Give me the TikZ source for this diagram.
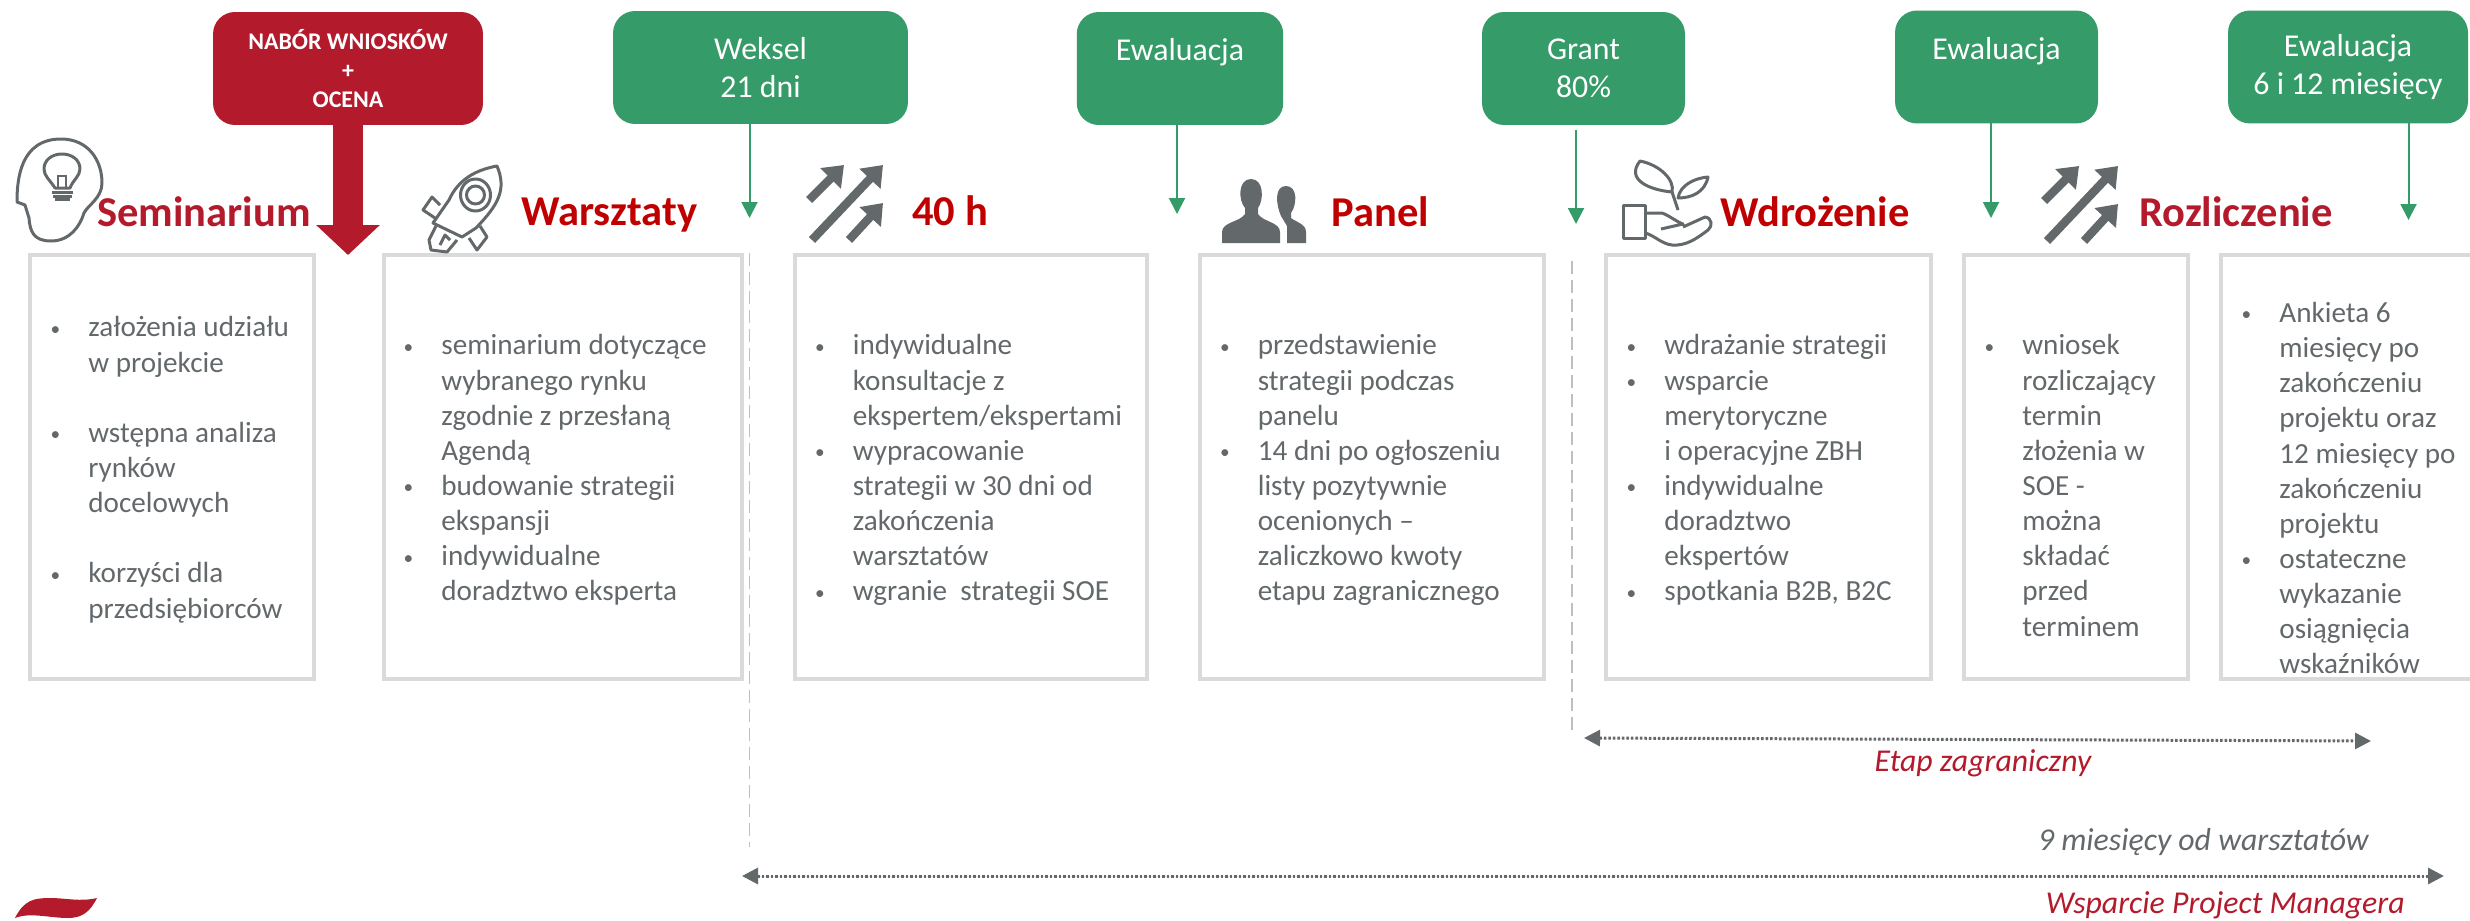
\documentclass[tikz,border=0pt]{standalone}
\usepackage{fontspec}
\setmainfont{Carlito}
\usetikzlibrary{arrows.meta}
\definecolor{zielony}{HTML}{359B69}
\definecolor{czerwony}{HTML}{B31A2B}
\definecolor{tytul}{HTML}{C00000}
\definecolor{szary}{HTML}{63686B}
\definecolor{ramka}{HTML}{DADADA}
\definecolor{przerywana}{HTML}{BFBFBF}
\newcommand{\pkt}{\strut\llap{\raisebox{1pt}{\fontsize{11}{11}\selectfont\textbullet}\hspace{16pt}}}
\newcommand{\strzalki}{
        \draw[iconarrow] (812,240) -- (883,165);
        \draw[iconarrow] (809,200) -- (844,165);
        \draw[iconarrow] (849,240) -- (883,203);
}
\begin{document}
\begin{tikzpicture}[x=.02cm,y=-.02cm,
        greenbox/.style={fill=zielony,text=white,rounded corners=.44cm,align=center,outer sep=0,minimum height=2.26cm,font=\fontsize{18.1}{21.6}\selectfont},
        redbox/.style={fill=czerwony,text=white,rounded corners=.44cm,align=center,outer sep=0,minimum height=2.26cm,font=\bfseries\fontsize{13.6}{16.5}\selectfont},
        panelbox/.style={draw=ramka,line width=.08cm,outer sep=0,minimum height=8.48cm,anchor=center},
        paneltext/.style={anchor=north west,align=left,inner sep=0,text=szary,font=\fontsize{16.6}{20}\selectfont},
        heading/.style={anchor=base west,inner sep=0,font=\bfseries\fontsize{24.2}{28}\selectfont},
        greenarrow/.style={draw=zielony,fill=zielony,line width=.04cm,-{Triangle[length=.32cm,width=.32cm]}},
        redarrow/.style={draw=czerwony,fill=czerwony,line width=.6cm,-{Triangle[length=.6cm,width=1.24cm]}},
        dotarrow/.style={draw=szary,fill=szary,line width=.06cm,dash pattern=on .05cm off .04cm,{Triangle[length=.32cm,width=.32cm]}-{Triangle[length=.32cm,width=.32cm]}},
        dashline/.style={draw=przerywana,line width=.03cm,dash pattern=on .26cm off .12cm},
        note/.style={inner sep=0,font=\itshape\fontsize{18.1}{22}\selectfont},
        iconline/.style={draw=szary,line width=.06cm,line join=round},
        iconarrow/.style={draw=szary,fill=szary,line width=.17cm,-{Triangle[length=.38cm,width=.56cm]}}]
        \clip (0,0) rectangle (2470,920);

        \node[redbox,minimum width=5.4cm] (nabor) at (348,68.5) {NABÓR WNIOSKÓW\\+\\OCENA};
        \node[greenbox,minimum width=5.9cm] (weksel) at (760.5,67.5) {Weksel\\21 dni};
        \node[greenbox,minimum width=4.13cm] (ewaluacjaa) at (1180,68.5) {Ewaluacja\\~};
        \node[greenbox,minimum width=4.06cm] (grant) at (1583.5,68.5) {Grant\\80\%};
        \node[greenbox,minimum width=4.06cm] (ewaluacjab) at (1996.5,67) {Ewaluacja\\~};
        \node[greenbox,minimum width=4.8cm] (ewaluacjac) at (2348,67) {Ewaluacja\\6 i 12 miesięcy};

        \coordinate (naborend) at (348,255);
        \coordinate (wekselend) at (749.5,218);
        \coordinate (ewaluacjaaend) at (1177,214);
        \coordinate (grantstart) at (1576,130);
        \coordinate (grantend) at (1576,224);
        \coordinate (ewaluacjabend) at (1991,218);
        \coordinate (ewaluacjacend) at (2408.5,220);
        \draw[redarrow] (nabor.south) -- (naborend);
        \draw[greenarrow] (weksel.south -| wekselend) -- (wekselend);
        \draw[greenarrow] (ewaluacjaa.south -| ewaluacjaaend) -- (ewaluacjaaend);
        \draw[greenarrow] (grantstart) -- (grantend);
        \draw[greenarrow] (ewaluacjab.south -| ewaluacjabend) -- (ewaluacjabend);
        \draw[greenarrow] (ewaluacjac.south -| ewaluacjacend) -- (ewaluacjacend);

        \node[heading,text=czerwony] (seminarium) at (97,226) {Seminarium};
        \node[heading,text=tytul] (warsztaty) at (521,225) {Warsztaty};
        \node[heading,text=tytul] (czterdziesci) at (912,225) {40 h};
        \node[heading,text=tytul] (panel) at (1331,226) {Panel};
        \node[heading,text=tytul] (wdrozenie) at (1720,226) {Wdrożenie};
        \node[heading,text=czerwony] (rozliczenie) at (2139,226) {Rozliczenie};

        \node[panelbox,minimum width=5.68cm] (boxa) at (172,467) {};
        \node[panelbox,minimum width=7.16cm] (boxb) at (563,467) {};
        \node[panelbox,minimum width=7.04cm] (boxc) at (971,467) {};
        \node[panelbox,minimum width=6.88cm] (boxd) at (1372,467) {};
        \node[panelbox,minimum width=6.5cm] (boxe) at (1768.5,467) {};
        \node[panelbox,minimum width=4.48cm] (boxf) at (2076,467) {};
        \node[panelbox,minimum width=5.38cm] (boxg) at (2355.5,467) {};

        \node[paneltext] (tekstya) at (88,312) {\pkt założenia udziału\\w projekcie\\~\\\pkt wstępna analiza\\rynków\\docelowych\\~\\\pkt korzyści dla\\przedsiębiorców};
        \node[paneltext] (tekstyb) at (441,330) {\pkt seminarium dotyczące\\wybranego rynku\\zgodnie z przesłaną\\Agendą\\\pkt budowanie strategii\\ekspansji\\\pkt indywidualne\\doradztwo eksperta};
        \node[paneltext] (tekstyc) at (852.5,330) {\pkt indywidualne\\konsultacje z\\ekspertem/ekspertami\\\pkt wypracowanie\\strategii w 30 dni od\\zakończenia\\warsztatów\\\pkt wgranie~ strategii SOE};
        \node[paneltext] (tekstyd) at (1257.5,330) {\pkt przedstawienie\\strategii podczas\\panelu\\\pkt 14 dni po ogłoszeniu\\listy pozytywnie\\ocenionych –\\zaliczkowo kwoty\\etapu zagranicznego};
        \node[paneltext] (tekstye) at (1664,330) {\pkt wdrażanie strategii\\\pkt wsparcie\\merytoryczne\\i operacyjne ZBH\\\pkt indywidualne\\doradztwo\\ekspertów\\\pkt spotkania B2B, B2C};
        \node[paneltext] (tekstyf) at (2022,330) {\pkt wniosek\\rozliczający\\termin\\złożenia w\\SOE -\\można\\składać\\przed\\terminem};
        \node[paneltext] (tekstyg) at (2279,297.5) {\pkt Ankieta 6\\miesięcy po\\zakończeniu\\projektu oraz\\12 miesięcy po\\zakończeniu\\projektu\\\pkt ostateczne\\wykazanie\\osiągnięcia\\wskaźników};

        \coordinate (dasha) at (749.5,253);
        \coordinate (dashaend) at (749.5,847);
        \coordinate (dashb) at (1572,261);
        \coordinate (dashbend) at (1572,735);
        \draw[dashline] (dasha) -- (dashaend);
        \draw[dashline] (dashb) -- (dashbend);

        \coordinate (etapl) at (1584,738);
        \coordinate (etapr) at (2371,741);
        \coordinate (miesiacel) at (742,876);
        \coordinate (miesiacer) at (2444,876);
        \draw[dotarrow] (etapl) -- (etapr);
        \draw[dotarrow] (miesiacel) -- (miesiacer);
        \node[note,text=czerwony] (etap) at (1983,763) {Etap zagraniczny};
        \node[note,text=szary,anchor=east] (miesiace) at (2369,842) {9 miesięcy od warsztatów};
        \node[note,text=czerwony,anchor=east] (wsparcie) at (2405,905) {Wsparcie Project Managera};

        \fill[czerwony] (15,918) .. controls (24,900) and (34,898) .. (50,898) .. controls (66,898) and (80,902) .. (97,898) .. controls (90,912) and (82,918) .. (68,918) .. controls (50,918) and (30,912) .. (15,918) -- cycle;

        \draw[iconline] (61,139) .. controls (88,139) and (102,160) .. (102,183) .. controls (102,198) and (88,205) .. (84,213) .. controls (80,226) and (70,241) .. (51,241) .. controls (34,241) and (30,232) .. (29,218) -- (25,205) -- (17,202) .. controls (17,180) and (20,139) .. (61,139) -- cycle;
        \draw[iconline] (55,188) .. controls (50,180) and (44,176) .. (44,169) .. controls (44,160) and (52,154) .. (62,154) .. controls (72,154) and (80,160) .. (80,169) .. controls (80,176) and (73,180) .. (70,188) -- cycle;
        \draw[iconline] (52,192) -- (73,192);
        \draw[iconline] (53,196) -- (72,196);
        \fill[szary] (55,198) rectangle (70,201);
        \draw[draw=szary,line width=.03cm] (58,187) -- (58,176) -- (66,176) -- (66,187);

        \draw[iconline] (497,166) .. controls (475,170) and (458,180) .. (449,200) -- (433,223) -- (462,237) -- (476,228) .. controls (498,205) and (507,190) .. (497,166) -- cycle;
        \draw[iconline] (475.5,195) ellipse [x radius=15,y radius=16];
        \draw[iconline] (475.5,195) ellipse [x radius=9,y radius=9];
        \draw[iconline] (440,205) -- (432,197) -- (423,210) -- (435,218);
        \draw[iconline] (469,238) -- (477,250) -- (487,237) -- (480,226);
        \draw[iconline] (436,226) -- (429,240) -- (431,250) -- (447,252) -- (457,240);
        \draw[iconline] (440,245) -- (445,235) -- (450,240);

        \strzalki
        \begin{scope}[shift={(1235,1)}]
                \strzalki
        \end{scope}

        \fill[szary] (1222,243) -- (1222,232) .. controls (1222,222) and (1240,222) .. (1245,214) -- (1245,208) .. controls (1238,200) and (1238,179) .. (1251,179) .. controls (1264,179) and (1264,200) .. (1258,208) -- (1258,214) .. controls (1263,222) and (1280,222) .. (1280,232) -- (1280,243) -- cycle;
        \fill[szary] (1287,243) -- (1287,226) -- (1281,216) .. controls (1276,205) and (1274,186) .. (1286,186) .. controls (1298,186) and (1297,205) .. (1291,213) -- (1291,218) .. controls (1296,222) and (1306,224) .. (1306,232) -- (1306,243) -- cycle;

        \draw[iconline] (1623,205) rectangle (1645.5,238);
        \draw[iconline] (1645.5,213) -- (1662,213) .. controls (1670,216) and (1677,222) .. (1683,224) -- (1661,229) (1683,227) -- (1705,217) .. controls (1712,218) and (1713,226) .. (1708,230) .. controls (1695,240) and (1685,246) .. (1672,245) .. controls (1662,244) and (1655,236) .. (1645.5,233);
        \draw[iconline] (1640,161) .. controls (1625,180) and (1650,190) .. (1672,192) .. controls (1675,180) and (1660,165) .. (1640,161) -- cycle;
        \draw[iconline] (1672,192) -- (1678,210);
        \draw[iconline] (1708,177) .. controls (1695,178) and (1680,185) .. (1678,198) .. controls (1692,198) and (1705,192) .. (1708,177) -- cycle;
\end{tikzpicture}
\end{document}
